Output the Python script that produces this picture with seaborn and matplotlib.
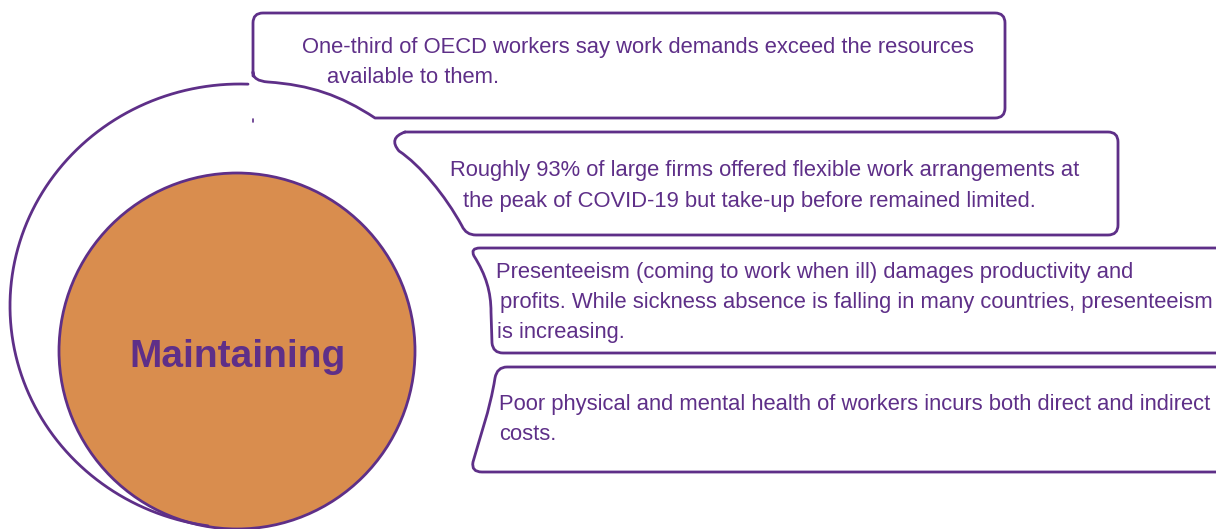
import numpy as np
import matplotlib
matplotlib.use("Agg")
import matplotlib.pyplot as plt
from matplotlib.path import Path
import matplotlib.patches as mpatches
from matplotlib import font_manager
import seaborn as sns

# ---- content -------------------------------------------------------------
centre_label = "Maintaining"

box1_lines = [
    "One-third of OECD workers say work demands exceed the resources",
    "available to them.",
]
box2_lines = [
    "Roughly 93% of large firms offered flexible work arrangements at",
    "the peak of COVID-19 but take-up before remained limited.",
]
box3_lines = [
    "Presenteeism (coming to work when ill) damages productivity and",
    "profits. While sickness absence is falling in many countries, presenteeism",
    "is increasing.",
]
box4_lines = [
    "Poor physical and mental health of workers incurs both direct and indirect",
    "costs.",
]

PURPLE = "#5E2F88"
ORANGE = "#D98D4E"

sns.set_theme(style="white")
names = {f.name for f in font_manager.fontManager.ttflist}
NARROW = "Liberation Sans Narrow" in names
plt.rcParams["font.family"] = ["Liberation Sans", "DejaVu Sans"]
title_family = ["Liberation Sans Narrow", "Liberation Sans"] if NARROW \
    else ["Liberation Sans", "DejaVu Sans"]

W, H = 1216, 529
fig = plt.figure(figsize=(W / 100, H / 100), dpi=100)
ax = fig.add_axes([0, 0, 1, 1])
ax.set_xlim(0, W)
ax.set_ylim(H, 0)
ax.set_aspect("equal")
ax.axis("off")

LW = 2.0
M, L, C3, C4 = Path.MOVETO, Path.LINETO, Path.CURVE3, Path.CURVE4


def draw_path(segments):
    verts, codes = [], []
    for code, pts in segments:
        for p in pts:
            verts.append(p)
            codes.append(code)
    ax.add_patch(mpatches.PathPatch(Path(verts, codes), facecolor="none",
                                    edgecolor=PURPLE, lw=LW, capstyle="round",
                                    joinstyle="round"))


# outer sweeping arc
t = np.radians(np.linspace(88, 262, 200))
ax.plot(240 + 230 * np.cos(t), 306 - 222 * np.sin(t), color=PURPLE, lw=LW)
ax.plot([253, 253], [119, 122], color=PURPLE, lw=1.2)

# centre circle
ax.add_patch(mpatches.Circle((237, 351), 178, facecolor=ORANGE,
                             edgecolor=PURPLE, lw=LW))
ax.text(237, 367, centre_label, ha="center", va="baseline", color=PURPLE,
        fontsize=33 if NARROW else 28, fontweight="bold", family=title_family)

# box 1 with tail
draw_path([
    (M, [(253, 76)]),
    (L, [(253, 23)]),
    (C3, [(253, 13), (263, 13)]),
    (L, [(995, 13)]),
    (C3, [(1005, 13), (1005, 23)]),
    (L, [(1005, 108)]),
    (C3, [(1005, 118), (995, 118)]),
    (L, [(375, 118)]),
    (C4, [(340, 95), (310, 85), (268, 82)]),
    (C3, [(253, 81), (253, 72)]),
])

# box 2
draw_path([
    (M, [(405, 132)]),
    (L, [(1108, 132)]),
    (C3, [(1118, 132), (1118, 142)]),
    (L, [(1118, 225)]),
    (C3, [(1118, 235), (1108, 235)]),
    (L, [(476, 235)]),
    (C3, [(466, 235), (462, 226)]),
    (C4, [(445, 195), (420, 165), (399, 151)]),
    (C3, [(388, 138), (405, 132)]),
])

# box 3
draw_path([
    (M, [(1230, 248)]),
    (L, [(480, 248)]),
    (C3, [(470, 248), (474, 256)]),
    (C4, [(486, 275), (491, 292), (491, 312)]),
    (L, [(492, 343)]),
    (C3, [(493, 353), (503, 353)]),
    (L, [(1230, 353)]),
])

# box 4
draw_path([
    (M, [(1230, 367)]),
    (L, [(507, 367)]),
    (C3, [(497, 367), (495, 378)]),
    (C4, [(490, 410), (479, 440), (473, 462)]),
    (C3, [(471, 472), (482, 472)]),
    (L, [(1230, 472)]),
])

body_size = 15.8
blocks = [
    (box1_lines, [302, 327], [53, 83]),
    (box2_lines, [450, 463], [176, 207]),
    (box3_lines, [496, 500, 497], [278, 308, 338]),
    (box4_lines, [499, 499], [410, 440]),
]
for lines, xs, ys in blocks:
    for txt, x, y in zip(lines, xs, ys):
        ax.text(x, y, txt, ha="left", va="baseline", color=PURPLE,
                fontsize=body_size)

fig.savefig("out.png", dpi=100)
